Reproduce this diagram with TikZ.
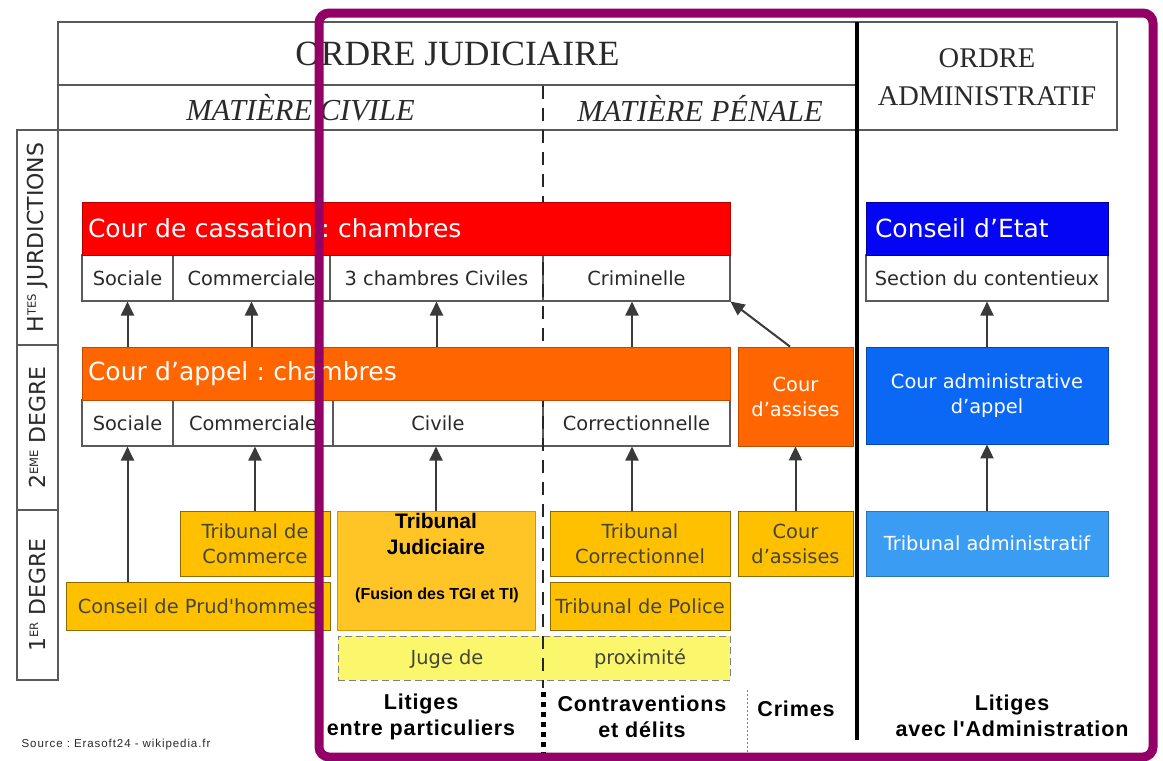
\documentclass[tikz,border=0pt]{standalone}
\usepackage{fontspec}
\setmainfont{Liberation Serif}
\newfontfamily\vsans[Ligatures=TeXOff]{DejaVu Sans}
\newfontfamily\asans[Ligatures=TeXOff]{Liberation Sans}
\usetikzlibrary{arrows.meta}
\definecolor{cassred}{HTML}{FF0000}
\definecolor{appor}{HTML}{FF6600}
\definecolor{yel}{HTML}{FFC000}
\definecolor{tjyel}{HTML}{FFC425}
\definecolor{lyel}{HTML}{FAF76C}
\definecolor{blueA}{HTML}{0505F5}
\definecolor{blueB}{HTML}{0A68F5}
\definecolor{blueC}{HTML}{3A9CF2}
\definecolor{cellgray}{HTML}{5A5A5A}
\definecolor{txtgray}{HTML}{2A2A2A}
\definecolor{ytxt}{HTML}{45453A}
\definecolor{arrgray}{HTML}{3A3A3A}
\definecolor{purp}{HTML}{930066}
\frenchspacing
\begin{document}
\frenchspacing
\begin{tikzpicture}[x=1pt,y=-1pt,
  every node/.style={inner sep=0pt},
  frame/.style={draw=cellgray, line width=1.1pt},
  hdr/.style={text=txtgray},
  lab/.style={draw=cellgray, line width=1.1pt, text=txtgray, font=\vsans\fontsize{22}{26}\selectfont},
  cell/.style={draw=cellgray, line width=1.1pt, fill=white, text=txtgray, minimum height=46pt, font=\vsans\fontsize{19.4}{23}\selectfont},
  bigbar/.style={line width=0.8pt, text=white, minimum height=53pt, align=left, font=\vsans\fontsize{25}{30}\selectfont},
  redbar/.style={bigbar, draw=red!70!black, fill=cassred},
  orbar/.style={bigbar, draw=appor!75!black, fill=appor},
  ybox/.style={draw=yel!55!black, line width=1pt, fill=yel, text=ytxt, align=center, font=\vsans\fontsize{19.4}{25}\selectfont},
  bbox/.style={line width=0.8pt, text=white, align=center, font=\vsans\fontsize{19.4}{25}\selectfont},
  bold/.style={text=black, align=center, font=\asans\bfseries\addfontfeature{LetterSpace=4}\fontsize{21.5}{26}\selectfont},
  arr/.style={draw=arrgray, line width=2pt, -{Triangle[length=14pt,width=13pt]}},
]
\useasboundingbox (0,0) rectangle (1163,761);
\fill[white] (0,0) rectangle (1163,761);

% ---------- header ----------
\draw[frame] (58,22) rectangle (1117,130);
\draw[frame] (58,85) -- (857,85);
\node[hdr, font=\fontsize{35.5}{40}\selectfont] (oj) at (457.5,54) {ORDRE JUDICIAIRE};
\node[hdr, font=\itshape\fontsize{30.5}{36}\selectfont] (mc) at (300.5,108) {MATIÈRE CIVILE};
\node[hdr, font=\itshape\fontsize{30.5}{36}\selectfont] (mp) at (700,108) {MATIÈRE PÉNALE};
\node[hdr, align=center, font=\fontsize{28.5}{38}\selectfont] (oa) at (987,77) {ORDRE\\ADMINISTRATIF};

% ---------- left labels ----------
\node[lab, rotate=90, minimum width=215pt, minimum height=41pt] (l1) at (37.5,237.5)
  {H\raisebox{7.5pt}{\fontsize{11.5}{11.5}\selectfont TES} JURDICTIONS};
\node[lab, rotate=90, minimum width=165pt, minimum height=41pt] (l2) at (37.5,427.5)
  {2\raisebox{7.5pt}{\fontsize{11.5}{11.5}\selectfont EME} DEGRE};
\node[lab, rotate=90, minimum width=170pt, minimum height=41pt] (l3) at (37.5,595)
  {1\raisebox{7.5pt}{\fontsize{11.5}{11.5}\selectfont ER} DEGRE};

% ---------- cells (hautes juridictions) ----------
\node[cell, minimum width=91pt] (csoc) at (127.5,278) {Sociale};
\node[cell, minimum width=157pt] (ccom) at (251.5,278) {Commerciale};
\node[cell, minimum width=213pt] (cciv) at (436.5,278) {3 chambres Civiles};
\node[cell, minimum width=187pt] (ccrim) at (636.5,278) {Criminelle};
\node[cell, minimum width=242pt] (sc) at (987,278) {Section du contentieux};

% ---------- cells (appel) ----------
\node[cell, minimum width=91pt] (asoc) at (127.5,423) {Sociale};
\node[cell, minimum width=160pt] (acom) at (253,423) {Commerciale};
\node[cell, minimum width=210pt] (aciv) at (438,423) {Civile};
\node[cell, minimum width=187pt] (acor) at (636.5,423) {Correctionnelle};

% ---------- first degree ----------
\node[ybox, minimum width=150pt, minimum height=65pt] (tcom) at (255,543.5) {Tribunal de\\Commerce};
\node[ybox, minimum width=264pt, minimum height=48pt] (cph) at (198,606) {Conseil de Prud'hommes};
\node[draw=yel!80!black, line width=0.6pt, fill=tjyel, minimum width=198pt, minimum height=119pt] (tj) at (436,570.5) {};
\node[bold, font=\asans\bfseries\fontsize{21}{26}\selectfont] (tjt) at (436,534) {Tribunal\\Judiciaire};
\node[bold, font=\asans\bfseries\fontsize{16}{19}\selectfont] (tjf) at (437,595) {(Fusion des TGI et TI)};
\node[ybox, minimum width=180pt, minimum height=65pt] (tcor) at (640,543.5) {Tribunal\\Correctionnel};
\node[ybox, minimum width=180pt, minimum height=48pt] (tpol) at (640,606) {Tribunal de Police};
\node[ybox, minimum width=115pt, minimum height=65pt] (ass1) at (795.5,543.5) {Cour\\d’assises};
\node[draw=gray, dashed, dash pattern=on 7pt off 4pt, line width=1pt, fill=lyel, minimum width=392pt, minimum height=44pt] (juge) at (534,658) {};
\node[text=ytxt, font=\vsans\fontsize{19.4}{23}\selectfont] (jg1) at (447,659) {Juge de};
\node[text=ytxt, font=\vsans\fontsize{19.4}{23}\selectfont] (jg2) at (640,659) {proximité};

% ---------- separators ----------
\draw[black!85, line width=2.6pt, dash pattern=on 13pt off 9pt] (543,86) -- (543,688);
\draw[black, line width=5pt, dash pattern=on 5pt off 5pt] (543,692) -- (543,757);
\draw[gray, line width=0.8pt, dash pattern=on 2pt off 2pt] (747,690) -- (747,758);
\draw[black, line width=4pt] (857,22) -- (857,740);

% ---------- big bars ----------
\node[redbar, text width=636pt, inner xsep=6pt] (cass) at (406,228.5) {Cour de cassation : chambres};
\node[orbar, text width=636pt, inner xsep=6pt] (app) at (406,373.5) {Cour d’appel : chambres};
\node[bbox, draw=appor!75!black, fill=appor, minimum width=115pt, minimum height=99pt] (ass2) at (795.5,396.5) {Cour\\d’assises};
\node[bigbar, draw=blue!60!black, fill=blueA, text width=224pt, inner xsep=9pt] (ce) at (987,228.5) {Conseil d’Etat};
\node[bbox, draw=blueB!70!black, fill=blueB, minimum width=242pt, minimum height=97pt] (caa) at (987,395.5) {Cour administrative\\d’appel};
\node[bbox, draw=blueC!75!black, fill=blueC, minimum width=242pt, minimum height=65pt] (ta) at (987,543.5) {Tribunal administratif};

% ---------- arrows ----------
\draw[arr] (app.north -| csoc.south) -- (csoc.south);
\draw[arr] (app.north -| ccom.south) -- (ccom.south);
\draw[arr] (app.north -| cciv.south) -- (cciv.south);
\draw[arr] (app.north -| 632,0) -- (ccrim.south -| 632,0);
\draw[arr] (ass2.north -| 790,0) -- (ccrim.south east);
\draw[arr] (cph.north -| asoc.south) -- (asoc.south);
\draw[arr] (tcom.north) -- (tcom.north |- acom.south);
\draw[arr] (tj.north) -- (tj.north |- aciv.south);
\draw[arr] (tcor.north -| 632,0) -- (acor.south -| 632,0);
\draw[arr] (ass1.north) -- (ass2.south);
\draw[arr] (caa.north) -- (sc.south);
\draw[arr] (ta.north) -- (caa.south);

% ---------- bottom labels ----------
\node[bold] (b1) at (421,717) {Litiges\\entre particuliers};
\node[bold] (b2) at (642,717) {Contraventions\\et délits};
\node[bold] (b3) at (796,709) {Crimes};
\node[bold] (b4) at (1012,716) {Litiges\\avec l'Administration};
\node[text=txtgray, font=\asans\addfontfeature{LetterSpace=8}\fontsize{11.5}{13}\selectfont] (src) at (116,745) {Source : Erasoft24 - wikipedia.fr};

% ---------- purple frame ----------
\draw[purp, line width=9pt, rounded corners=10pt] (319,13) rectangle (1153,757);
\end{tikzpicture}
\end{document}
